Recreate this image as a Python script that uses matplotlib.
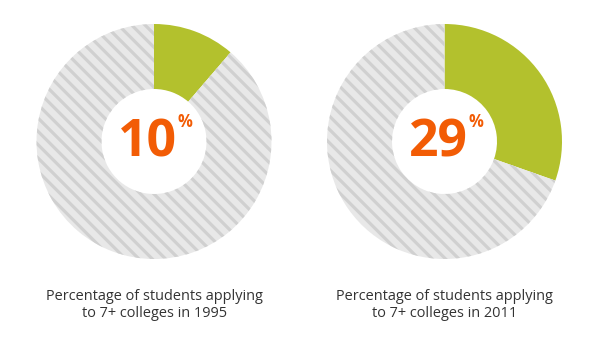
import matplotlib.pyplot as plt

years = ['1995', '2011']
labels = ['10', '29']
# share of the ring that is green, as drawn
shares = [11.3, 30.4]

green = '#b3c12d'
orange = '#f25c05'
stripe_light = '#e8e8e8'
stripe_dark = '#d0d0d0'

plt.rcParams['font.family'] = ['Open Sans', 'DejaVu Sans']
plt.rcParams['hatch.linewidth'] = 1.9

W, H = 600, 340
fig = plt.figure(figsize=(5, 340 / 120), dpi=120)
fig.patch.set_facecolor('white')

R = 117.5
r_in = 52.5
centers = [(154, 141.5), (444.5, 141.5)]

for i in range(len(years)):
    cx, cy = centers[i]
    ax = fig.add_axes([(cx - R) / W, (H - cy - R) / H, 2 * R / W, 2 * R / H])
    wedges, _ = ax.pie([shares[i], 100 - shares[i]], startangle=90, counterclock=False,
                       radius=1, colors=[green, stripe_light],
                       wedgeprops=dict(width=1 - r_in / R, linewidth=0))
    wedges[0].set_edgecolor(green)
    wedges[1].set_edgecolor(stripe_dark)
    wedges[1].set_hatch('\\\\\\')
    ax.set_xlim(-1, 1)
    ax.set_ylim(-1, 1)
    ax.axis('off')

    # big number in the hole
    ax.text(-0.055, -0.01, labels[i], ha='center', va='center', color=orange,
            fontsize=31, fontweight='bold')
    ax.text(0.265, 0.165, '%', ha='center', va='center', color=orange,
            fontsize=10, fontweight='bold')

    fig.text(cx / W, 1 - 305 / H,
             'Percentage of students applying\nto 7+ colleges in ' + years[i],
             ha='center', va='center', color='#333333', fontsize=8.7, linespacing=1.2)

fig.savefig('out.png', dpi=120, facecolor='white')
